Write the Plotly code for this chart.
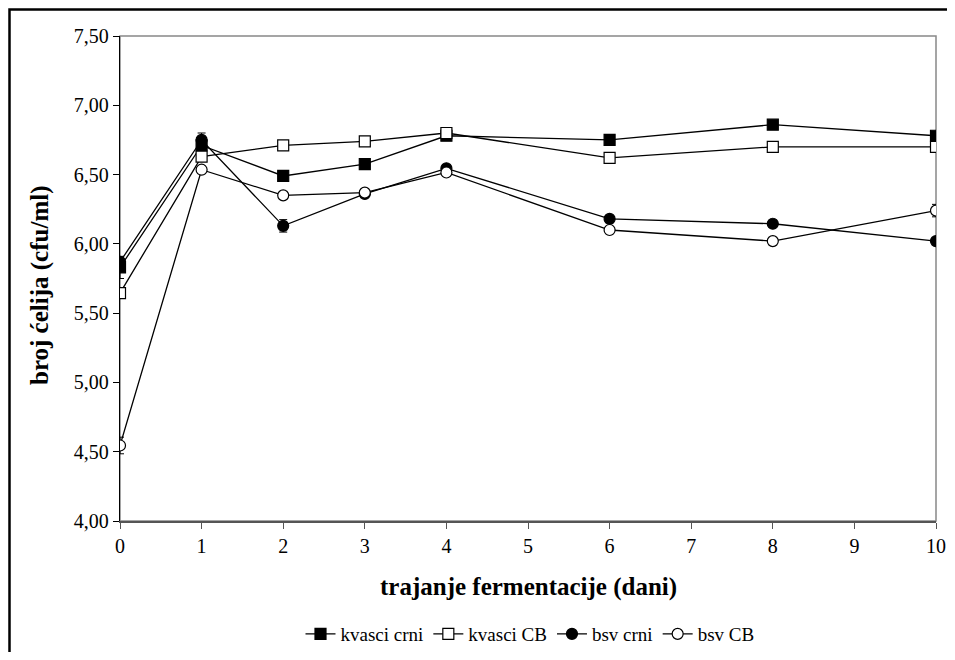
import plotly.graph_objects as go

days = [0, 1, 2, 3, 4, 6, 8, 10]
kvasci_crni = [5.83, 6.71, 6.49, 6.575, 6.78, 6.75, 6.86, 6.78]
kvasci_cb = [5.645, 6.63, 6.71, 6.74, 6.80, 6.62, 6.70, 6.70]
bsv_crni = [5.87, 6.75, 6.13, 6.36, 6.545, 6.18, 6.145, 6.02]
bsv_cb = [4.545, 6.535, 6.35, 6.37, 6.515, 6.10, 6.02, 6.24]
err_kvasci_crni = [0.08, 0.03, 0.01, 0.01, 0.01, 0.01, 0.01, 0.01]
err_kvasci_cb = [0.01, 0.01, 0.01, 0.01, 0.01, 0.01, 0.01, 0.01]
err_bsv_crni = [0.02, 0.05, 0.045, 0.02, 0.01, 0.01, 0.01, 0.01]
err_bsv_cb = [0.06, 0.01, 0.01, 0.01, 0.01, 0.01, 0.01, 0.045]

names = ["kvasci crni", "kvasci CB", "bsv crni", "bsv CB"]
ys = [kvasci_crni, kvasci_cb, bsv_crni, bsv_cb]
errs = [err_kvasci_crni, err_kvasci_cb, err_bsv_crni, err_bsv_cb]
symbols = ["square", "square-open", "circle", "circle-open"]

font = "Times New Roman, Liberation Serif, serif"

fig = go.Figure()
for n, y, e, s in zip(names, ys, errs, symbols):
    filled = not s.endswith("open")
    fig.add_trace(go.Scatter(
        x=days, y=y, name=n, mode="lines+markers",
        line=dict(color="black", width=1.3),
        marker=dict(symbol=s.replace("-open", ""), size=11,
                    color="black" if filled else "white",
                    line=dict(color="black", width=1.2)),
        error_y=dict(type="data", array=e, visible=True, color="black",
                     thickness=1, width=4),
    ))

# page body has an 8px margin; screen-space plot box is x 120..936, y 36..521
OFF = 8
SL, SR, ST, SB = 120, 936, 36, 521
W, H = 955 - 2 * OFF, 660 - 2 * OFF
L, T = SL - OFF, ST - OFF
R = W - (SR - OFF)
B = H - (SB - OFF)
pw, ph = SR - SL, SB - ST

def px(x):
    return (x - SL) / pw

def py(y):
    return (SB - y) / ph

frame_path = "M {:.5f} {:.5f} L {:.5f} {:.5f} L {:.5f} {:.5f}".format(
    px(9.5), py(720), px(9.5), py(9.5), px(1010), py(9.5))

fig.update_layout(
    width=W, height=H,
    margin=dict(l=L, r=R, t=T, b=B, autoexpand=False),
    paper_bgcolor="white", plot_bgcolor="white",
    separators=", ",
    font=dict(family=font, size=20, color="black"),
    showlegend=True,
    legend=dict(orientation="h", x=px(530), xanchor="center", y=py(634), yanchor="middle",
                font=dict(family=font, size=19), itemwidth=30, bgcolor="rgba(0,0,0,0)"),
    xaxis=dict(range=[0, 10], dtick=1, tick0=0, showgrid=False, zeroline=False,
               showline=True, linecolor="#555555", linewidth=2,
               ticks="outside", ticklen=6, tickcolor="#555555",
               tickfont=dict(family=font, size=20)),
    yaxis=dict(range=[4, 7.5], dtick=0.5, tick0=4, tickformat=".2f",
               showgrid=False, zeroline=False,
               showline=True, linecolor="black", linewidth=1.3,
               ticks="outside", ticklen=6, tickcolor="black",
               tickfont=dict(family=font, size=20)),
    shapes=[
        dict(type="rect", xref="paper", yref="paper", x0=0, x1=1, y0=0, y1=1,
             line=dict(color="#888888", width=1.5), layer="below"),
        dict(type="path", xref="paper", yref="paper", path=frame_path,
             line=dict(color="black", width=2.5)),
    ],
    annotations=[
        dict(text="<b>trajanje fermentacije (dani)</b>", xref="paper", yref="paper",
             x=px(528), y=py(587), xanchor="center", yanchor="middle", showarrow=False,
             font=dict(family=font, size=25)),
        dict(text="<b>broj ćelija (cfu/ml)</b>", xref="paper", yref="paper",
             x=px(40), y=py(286), xanchor="center", yanchor="middle", showarrow=False,
             textangle=-90, font=dict(family=font, size=25)),
    ],
)

fig.write_html("out.html")
